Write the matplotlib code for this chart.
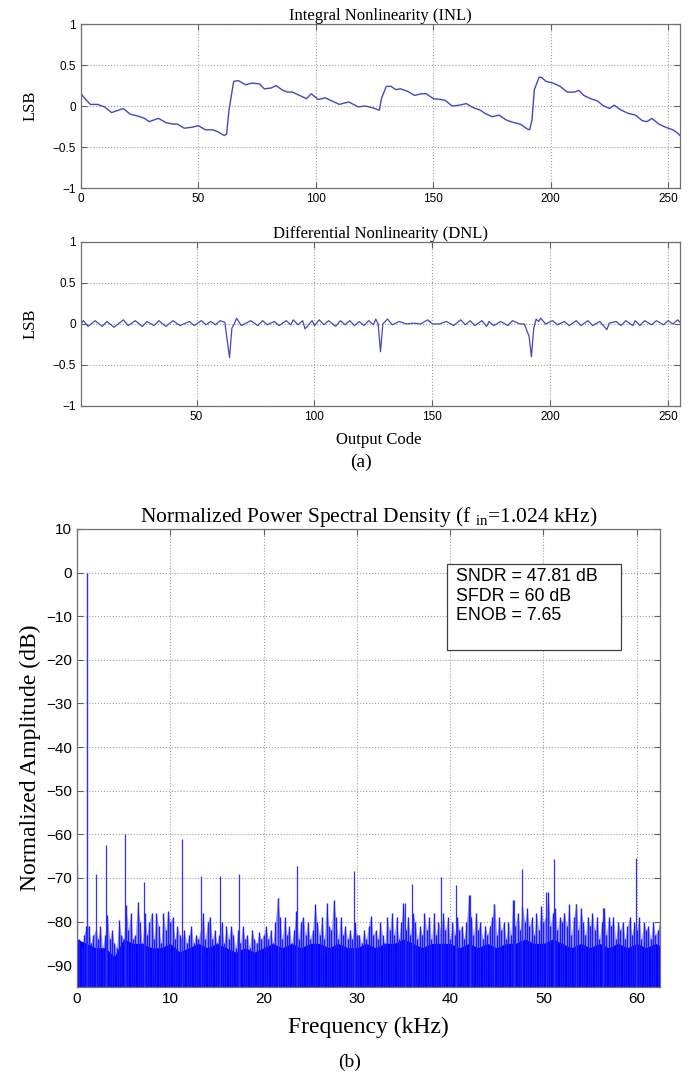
import numpy as np
import matplotlib
matplotlib.use('Agg')
import matplotlib.pyplot as plt
from matplotlib.patches import Rectangle

plt.rcParams['font.family'] = 'Liberation Sans'
plt.rcParams['mathtext.fontset'] = 'custom'
plt.rcParams['mathtext.rm'] = 'Liberation Serif'
plt.rcParams['mathtext.it'] = 'Liberation Serif:italic'

SERIF = 'Liberation Serif'

# ---------------- INL ----------------
inl_code = [0, 2, 4, 7, 10, 13, 15, 18, 21, 24, 27, 29, 33, 36, 39, 41, 44, 47,
            50, 53, 56, 58, 61, 62, 63, 65, 67, 70, 73, 76, 78, 81, 83, 86, 88,
            90, 93, 96, 98, 101, 104, 107, 110, 114, 118, 121, 124, 127, 128,
            130, 132, 134, 136, 139, 142, 145, 147, 150, 153, 155, 158, 161,
            164, 167, 170, 172, 175, 178, 181, 184, 187, 190, 191, 192, 193,
            195, 196, 198, 201, 204, 207, 210, 212, 214, 217, 220, 222, 225,
            227, 230, 233, 236, 239, 241, 243, 246, 249, 252, 254, 255]
inl_lsb = [0.15, 0.08, 0.02, 0.02, -0.01, -0.08, -0.06, -0.03, -0.10, -0.12,
           -0.15, -0.19, -0.15, -0.20, -0.22, -0.22, -0.27, -0.26, -0.24, -0.29,
           -0.29, -0.31, -0.36, -0.34, -0.05, 0.30, 0.31, 0.26, 0.28, 0.27, 0.21,
           0.22, 0.25, 0.19, 0.17, 0.17, 0.13, 0.09, 0.15, 0.08, 0.10, 0.06,
           0.02, 0.05, -0.01, 0.00, -0.02, -0.05, 0.10, 0.24, 0.24, 0.20, 0.21,
           0.18, 0.13, 0.15, 0.15, 0.09, 0.08, 0.07, 0.00, 0.01, 0.03, -0.02,
           -0.05, -0.09, -0.13, -0.11, -0.17, -0.20, -0.22, -0.28, -0.29, -0.17,
           0.20, 0.35, 0.35, 0.30, 0.28, 0.24, 0.17, 0.17, 0.19, 0.13, 0.09,
           0.06, 0.01, -0.03, 0.01, -0.05, -0.09, -0.11, -0.18, -0.19, -0.15,
           -0.22, -0.26, -0.29, -0.33, -0.36]

# ---------------- DNL ----------------
dnl_code = [1, 2, 4, 7, 10, 12, 15, 19, 21, 24, 27, 29, 32, 34, 37, 40, 43, 47,
            49, 52, 54, 56, 58, 60, 62, 63, 64, 65, 66, 67, 69, 71, 73, 76, 78,
            80, 83, 85, 88, 90, 91, 93, 95, 96, 99, 100, 102, 104, 106, 109,
            111, 113, 115, 117, 119, 121, 123, 125, 126, 127, 128, 129, 130,
            131, 133, 136, 139, 142, 145, 148, 150, 153, 156, 159, 162, 164,
            166, 168, 171, 173, 174, 176, 179, 182, 184, 187, 189, 191, 192,
            193, 194, 195, 196, 198, 201, 203, 206, 208, 211, 213, 216, 218,
            221, 224, 225, 228, 230, 232, 235, 236, 238, 240, 243, 245, 248,
            250, 252, 254, 255]
dnl_lsb = [0.0, 0.04, -0.03, 0.04, -0.03, 0.03, -0.04, 0.05, -0.02, 0.04,
           -0.03, 0.03, -0.02, 0.04, -0.03, 0.04, -0.02, 0.03, -0.02, 0.04,
           -0.01, 0.03, -0.01, 0.04, 0.02, -0.20, -0.41, -0.05, 0.0, 0.07,
           -0.02, 0.01, 0.04, -0.02, 0.04, -0.01, 0.03, -0.02, 0.04, -0.01,
           0.05, -0.01, 0.04, -0.06, 0.04, -0.02, 0.05, -0.01, 0.04, -0.03,
           0.04, -0.01, 0.04, -0.02, 0.03, -0.02, 0.04, -0.01, 0.06, 0.0,
           -0.34, 0.0, 0.03, 0.06, -0.01, 0.03, 0.0, 0.01, 0.0, 0.05, 0.0, 0.0,
           0.03, -0.02, 0.05, -0.01, 0.04, -0.02, 0.04, -0.03, 0.03, -0.02,
           0.03, -0.02, 0.04, 0.0, 0.0, -0.15, -0.40, -0.05, 0.06, 0.03, 0.07,
           0.0, 0.04, -0.01, 0.03, -0.02, 0.04, -0.02, 0.04, -0.02, 0.03, -0.07,
           0.01, 0.03, -0.02, 0.04, -0.02, 0.04, -0.02, 0.04, -0.01, 0.04,
           -0.01, 0.04, 0.0, 0.05, 0.02]

lsb_ticks = [-1, -0.5, 0, 0.5, 1]
lsb_labels = ['\u22121', '\u22120.5', '0', '0.5', '1']

# ---------------- PSD ----------------
f_in = 1.024
spur_khz = [0.0, 2.05, 3.07, 5.12, 7.17, 11.26, 13.31, 15.36, 17.41, 21.5,
            23.55, 29.7, 35.2, 35.9, 39.0, 40.6, 42.1, 44.7, 46.8, 47.7, 50.3,
            51.1, 53.5, 56.4, 59.9]
spur_db = [-67, -69, -62.5, -60, -71, -61, -69.5, -69.5, -69, -74.5, -67.3,
           -68.3, -75.7, -71.3, -69.7, -71.6, -74, -75.9, -75.1, -68, -73.2,
           -65.6, -76, -77, -65.4]

# noise spikes, one every 0.25 kHz (0.25 ... 62.5)
noise_khz = np.arange(1, 251) * 0.25
noise_db = [-84, -86, -83, -81, -81, -85, -83, -82,
            -84, -81, -86, -83, -78.5, -84, -82, -85,
            -86, -79.7, -83, -84, -76.3, -82, -78, -84,
            -83, -75.6, -80, -85, -78, -83, -80, -78,
            -84, -78, -81, -85, -78, -82, -77.5, -80,
            -79, -84, -81, -83, -84, -82, -85, -83,
            -81, -85, -83, -84, -82, -78, -84, -80,
            -79, -84, -82, -85, -83, -80, -85, -81,
            -84, -81, -83, -86, -82, -85, -81, -84,
            -83, -86, -82, -84, -85, -82.5, -84, -83,
            -81, -84, -82, -85, -80, -74.6, -79, -84,
            -79, -83, -81, -85, -82, -77.5, -84, -80,
            -79, -83, -80, -84, -82, -76, -80, -83,
            -79, -84, -75.8, -81, -82, -75, -79, -84,
            -79, -83, -81, -84, -82, -84, -80, -83,
            -83, -85, -82, -84, -81, -78.7, -83, -82,
            -84, -80, -83, -85, -79, -82, -78, -83,
            -79, -84, -80, -75.7, -82, -79, -83, -78,
            -80, -84, -81, -83, -78, -82, -79, -84,
            -78, -83, -80, -82, -78, -82, -79, -84,
            -80, -83, -79, -82, -81, -84, -80, -74,
            -79, -83, -78, -82, -80, -84, -81, -83,
            -81, -79, -75.9, -83, -79, -82, -80, -84,
            -80, -83, -75.1, -81, -78, -82, -76.5, -80,
            -77, -81, -79, -83, -78, -82, -76.5, -80,
            -79, -73.2, -81, -78, -77, -82, -79, -80,
            -78, -81, -76, -83, -79, -76, -82, -77,
            -80, -83, -79, -81, -78, -82, -79, -84,
            -80, -77, -83, -79, -81, -79, -84, -80,
            -82, -80, -84, -81, -79, -83, -80, -82,
            -79, -84, -80, -82, -81, -84, -80, -83,
            -82, -80]

# solid noise body, one level per kHz
floor_khz = np.arange(0, 64)
floor_db = [-84, -85, -86, -86, -88, -84, -85, -85, -86, -86,
            -85, -87, -86, -85, -86, -85, -86, -87, -86, -87,
            -86, -85, -86, -85, -86, -85, -85, -86, -85, -86,
            -86, -85, -86, -85, -85, -84, -85, -86, -85, -85,
            -85, -86, -85, -86, -85, -86, -85, -85, -84, -85,
            -85, -84, -85, -86, -85, -86, -85, -86, -85, -86,
            -85, -86, -85, -86]

psd_yticks = [-90, -80, -70, -60, -50, -40, -30, -20, -10, 0, 10]
psd_ylabels = ['\u221290', '\u221280', '\u221270', '\u221260', '\u221250',
               '\u221240', '\u221230', '\u221220', '\u221210', '0', '10']
psd_xticks = [0, 10, 20, 30, 40, 50, 60]

box_text = 'SNDR = 47.81 dB\nSFDR = 60 dB\nENOB = 7.65'


def style_axes(ax, tick_size):
    ax.grid(True, linestyle=':', color='#a0a0a0', linewidth=0.8)
    ax.set_axisbelow(True)
    ax.tick_params(direction='in', top=True, right=True, length=4,
                   width=0.8, color='#606060', labelsize=tick_size)
    for s in ax.spines.values():
        s.set_color('#707070')
        s.set_linewidth(0.9)


fig = plt.figure(figsize=(7.0, 10.82), dpi=100)

line_col = '#4646c0'

# INL
ax1 = fig.add_axes([0.1157, 0.8262, 0.8557, 0.1516])
ax1.plot(inl_code, inl_lsb, color=line_col, linewidth=1.0)
ax1.set_xlim(0, 255)
ax1.set_ylim(-1, 1)
ax1.set_xticks([0, 50, 100, 150, 200, 250])
ax1.set_yticks(lsb_ticks)
ax1.set_yticklabels(lsb_labels)
style_axes(ax1, 8.5)
ax1.set_title('Integral Nonlinearity (INL)', family=SERIF, fontsize=12, pad=3)
ax1.set_ylabel('LSB', family=SERIF, fontsize=12, labelpad=10)

# DNL
ax2 = fig.add_axes([0.1157, 0.6248, 0.8557, 0.1516])
ax2.plot(dnl_code, dnl_lsb, color=line_col, linewidth=0.9)
ax2.set_xlim(1, 255)
ax2.set_ylim(-1, 1)
ax2.set_xticks([50, 100, 150, 200, 250])
ax2.set_yticks(lsb_ticks)
ax2.set_yticklabels(lsb_labels)
style_axes(ax2, 8.5)
ax2.set_title('Differential Nonlinearity (DNL)', family=SERIF, fontsize=12, pad=3)
ax2.set_ylabel('LSB', family=SERIF, fontsize=12, labelpad=10)

fig.text(379 / 700, 1 - 440 / 1082, 'Output Code', family=SERIF, fontsize=12,
         ha='center', va='center')
fig.text(361 / 700, 1 - 462 / 1082, '(a)', family=SERIF, fontsize=14,
         ha='center', va='center')

# PSD
ax3 = fig.add_axes([0.110, 0.0878, 0.8329, 0.4233])
ax3.fill_between(noise_khz, -95, noise_db, color='#5050ff', alpha=0.55,
                 linewidth=0)
ax3.fill_between(floor_khz, -95, floor_db, color='#0000ff', linewidth=0)
ax3.vlines(noise_khz, -95, noise_db, color='#1a1aff', linewidth=1.0)
ax3.vlines(spur_khz, -95, spur_db, color='#3030ff', linewidth=0.9)
ax3.vlines([f_in], -95, [0], color='#3030ff', linewidth=1.0)
ax3.set_xlim(0, 62.5)
ax3.set_ylim(-95, 10)
ax3.set_xticks(psd_xticks)
ax3.set_yticks(psd_yticks)
ax3.set_yticklabels(psd_ylabels)
style_axes(ax3, 11)
ax3.set_title(r'Normalized Power Spectral Density (f $_{\mathrm{in}}$=1.024 kHz)',
              family=SERIF, fontsize=15.5, pad=5)
ax3.set_ylabel('Normalized Amplitude (dB)', family=SERIF, fontsize=17, labelpad=4)

ax3.add_patch(Rectangle((0.634, 0.736), 0.299, 0.187, transform=ax3.transAxes,
                        facecolor='white', edgecolor='#404040', linewidth=0.9,
                        zorder=5))
ax3.text(0.650, 0.915, box_text, transform=ax3.transAxes, fontsize=12.8,
         va='top', ha='left', linespacing=1.2, zorder=6)

fig.text(368 / 700, 1 - 1027 / 1082, 'Frequency (kHz)', family=SERIF,
         fontsize=17, ha='center', va='center')
fig.text(350 / 700, 1 - 1062 / 1082, '(b)', family=SERIF, fontsize=14,
         ha='center', va='center')

fig.savefig('out.png', dpi=100)
